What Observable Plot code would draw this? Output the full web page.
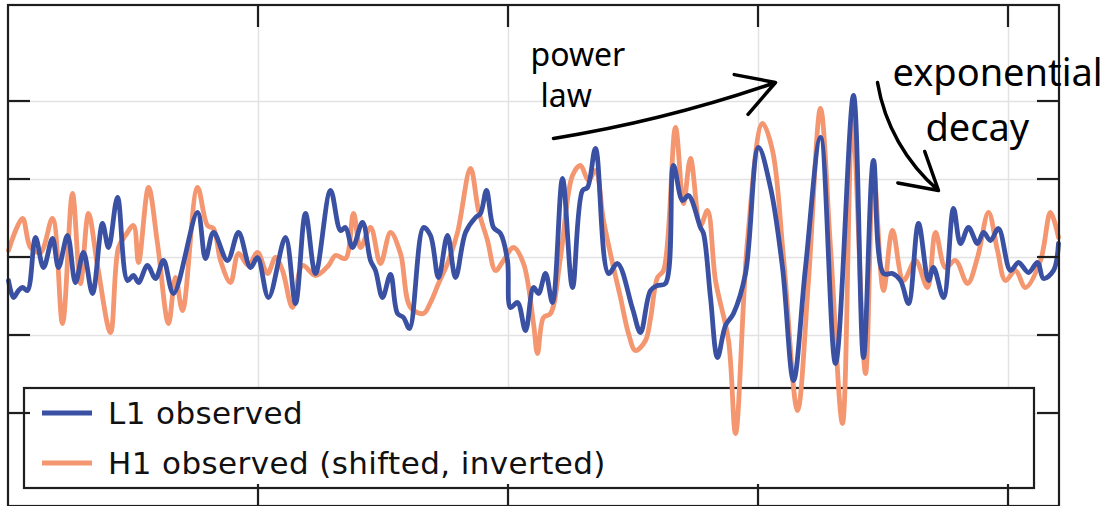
<!DOCTYPE html>
<html><head><meta charset="utf-8">
<script src="https://cdn.jsdelivr.net/npm/d3@7"></script>
<script src="https://cdn.jsdelivr.net/npm/@observablehq/plot@0.6"></script>
<style>
html,body{margin:0;padding:0;background:#fff;}
#chart svg{display:block;}
</style></head><body><div id="chart"></div>
<script>
// time (ms) , strain (arbitrary units; ticks every 78)
const l1Observed = [[0,-23],[5,-40],[10,-33],[14,-30],[19,-33],[27,20],[35,-10],[44,19],[50,-10],[59,22],[67,-25],[75,5],[84,-36],[94,34],[100,10],[109,60],[119,-23],[125,-18],[130,-25],[139,-8],[147,-21],[155,-3],[165,-36],[189,45],[197,-1],[205,25],[219,-3],[230,25],[242,-10],[249,0],[260,-40],[277,20],[287,-46],[297,44],[307,-16],[322,67],[332,27],[337,30],[344,10],[354,35],[362,-3],[367,-13],[374,-40],[382,-17],[389,-56],[395,-60],[401,-71],[415,30],[422,22],[430,-20],[439,22],[447,-20],[457,25],[467,40],[472,44],[478,67],[485,30],[492,24],[499,-3],[502,-50],[509,-45],[517,-73],[525,-30],[530,-36],[537,-16],[544,-45],[554,79],[564,-30],[574,67],[579,70],[587,109],[600,-16],[609,-6],[624,-51],[632,-75],[642,-33],[649,-28],[657,-26],[665,92],[674,57],[680,62],[692,30],[695,24],[702,-40],[709,-100],[717,-68],[725,-56],[737,-16],[750,110],[762,70],[774,-10],[785,-123],[797,-10],[812,120],[827,-106],[845,162],[855,-100],[865,97],[875,-16],[884,-16],[892,-23],[900,-46],[910,34],[920,-23],[925,-10],[935,-40],[945,49],[952,14],[960,30],[969,14],[975,25],[982,17],[990,29],[1002,-13],[1010,-5],[1020,-15],[1029,-5],[1035,-21],[1045,-13],[1050,14]];
const h1Observed = [[0,7],[14,39],[22,10],[32,5],[44,39],[54,-66],[64,64],[72,-26],[80,44],[89,-8],[102,-75],[110,10],[117,22],[125,32],[130,-5],[140,70],[149,14],[160,-66],[167,-20],[174,-53],[189,70],[199,32],[205,29],[212,-3],[222,-25],[230,4],[240,-8],[249,5],[259,-16],[267,0],[274,-13],[284,-50],[294,-8],[307,-18],[320,-8],[327,2],[337,-1],[345,44],[352,10],[362,30],[372,-6],[382,25],[392,4],[402,-50],[415,-56],[422,-45],[430,-26],[439,-6],[449,25],[462,89],[470,47],[479,17],[487,-13],[495,-3],[505,10],[515,-6],[525,-66],[529,-96],[535,-60],[542,-56],[552,0],[564,82],[572,92],[580,77],[587,87],[595,37],[605,-10],[612,-40],[620,-76],[627,-93],[637,-83],[642,-61],[649,-20],[655,-13],[667,130],[675,54],[682,99],[692,32],[699,47],[707,-23],[720,-83],[727,-176],[739,17],[754,134],[764,107],[775,0],[789,-153],[800,-23],[812,149],[822,10],[834,-166],[844,137],[857,-116],[865,87],[875,-33],[884,27],[895,-23],[907,-3],[919,-30],[927,25],[937,-10],[947,-3],[959,-26],[969,0],[980,45],[989,7],[997,-23],[1007,-13],[1017,-30],[1032,-3],[1042,45],[1050,20]];

const xTicks = [250, 500, 750, 1000];
const yTicks = [-156, -78, 0, 78, 156];
const seriesNames = ["L1 observed", "H1 observed (shifted, inverted)"];
const seriesColors = ["#3a51a3", "#f4966f"];

const noteTexts = [
  {text: "power", x: 522, y: 192, size: 32},
  {text: "law", x: 532, y: 151, size: 32},
  {text: "exponential", x: 884, y: 172, size: 38},
  {text: "decay", x: 917, y: 117, size: 38}
];
const noteArrowA = [{x1: 545, y1: 119, x2: 767, y2: 175}];
const noteArrowB = [{x1: 869, y1: 175, x2: 930, y2: 67}];

function frameTicks(index, scales, values, dims) {
  const {width, height, marginLeft, marginRight, marginTop, marginBottom} = dims;
  const x0 = marginLeft, x1 = width - marginRight, y0 = marginTop, y1 = height - marginBottom;
  const g = d3.create("svg:g").attr("stroke", "#1e1e1e").attr("stroke-width", 2.2).attr("fill", "none");
  g.append("rect").attr("x", x0).attr("y", y0).attr("width", x1 - x0).attr("height", y1 - y0);
  const L = 22;
  for (const t of xTicks) {
    const px = scales.x(t);
    g.append("line").attr("x1", px).attr("x2", px).attr("y1", y0).attr("y2", y0 + L);
    g.append("line").attr("x1", px).attr("x2", px).attr("y1", y1).attr("y2", y1 - L);
  }
  for (const t of yTicks) {
    const py = scales.y(t);
    g.append("line").attr("y1", py).attr("y2", py).attr("x1", x0).attr("x2", x0 + L);
    g.append("line").attr("y1", py).attr("y2", py).attr("x1", x1).attr("x2", x1 - L);
  }
  return g.node();
}

function legendMark(index, scales, values, dims) {
  const {width, height, marginLeft, marginRight, marginBottom} = dims;
  const left = marginLeft + 16, right = width - marginRight - 25;
  const bottom = height - marginBottom - 18, top = bottom - 100;
  const g = d3.create("svg:g");
  g.append("rect").attr("x", left).attr("y", top).attr("width", right - left).attr("height", bottom - top)
    .attr("fill", "#fff").attr("stroke", "#1e1e1e").attr("stroke-width", 2.2);
  seriesNames.forEach((name, i) => {
    const cy = top + 25 + i * 50;
    g.append("line").attr("x1", left + 18).attr("x2", left + 68).attr("y1", cy).attr("y2", cy)
      .attr("stroke", seriesColors[i]).attr("stroke-width", 5);
    g.append("text").attr("x", left + 84).attr("y", cy + 11).text(name)
      .attr("text-anchor", "start").attr("letter-spacing", 0.4)
      .attr("fill", "#111").attr("font-size", 31).attr("font-family", "DejaVu Sans");
  });
  return g.node();
}

const chart = Plot.plot({
  width: 1120, height: 506,
  marginLeft: 8, marginRight: 61, marginTop: 5, marginBottom: 0,
  style: {fontFamily: "DejaVu Sans", background: "#fff"},
  x: {domain: [0, 1051], axis: null},
  y: {domain: [-249, 252], axis: null},
  marks: [
    Plot.gridX(xTicks, {stroke: "#e2e2e2", strokeOpacity: 1, strokeWidth: 1.5}),
    Plot.gridY(yTicks, {stroke: "#e2e2e2", strokeOpacity: 1, strokeWidth: 1.5}),
    legendMark,
    Plot.line(h1Observed, {x: d => d[0], y: d => d[1], stroke: seriesColors[1], strokeWidth: 4.8, curve: "catmull-rom"}),
    Plot.line(l1Observed, {x: d => d[0], y: d => d[1], stroke: seriesColors[0], strokeWidth: 4.8, curve: "catmull-rom"}),
    frameTicks,
    Plot.text(noteTexts, {x: "x", y: "y", text: "text", fontSize: d => d.size, textAnchor: "start", lineAnchor: "bottom", fill: "#000", fontFamily: "Noto Sans", style: "letter-spacing: 2px"}),
    Plot.arrow(noteArrowA, {x1: "x1", y1: "y1", x2: "x2", y2: "y2", bend: -5, stroke: "#000", strokeWidth: 3.5, headLength: 18}),
    Plot.arrow(noteArrowB, {x1: "x1", y1: "y1", x2: "x2", y2: "y2", bend: -20, stroke: "#000", strokeWidth: 3.5, headLength: 18})
  ]
});
document.getElementById("chart").appendChild(chart);
</script>
</body></html>
